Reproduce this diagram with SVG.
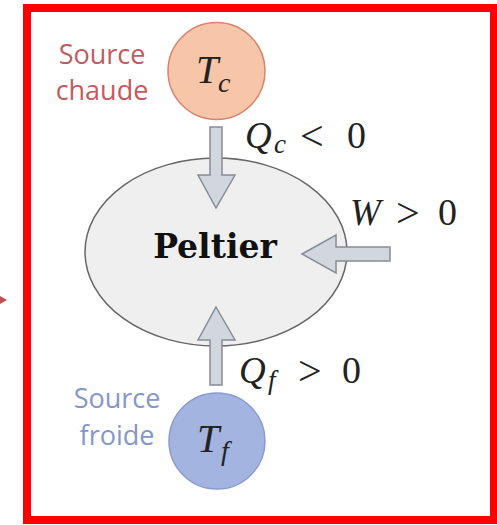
<svg xmlns="http://www.w3.org/2000/svg" width="497" height="525" viewBox="0 0 497 525">
<style>
.src{font-family:"Open Sans","Liberation Sans",sans-serif;font-size:27px;text-anchor:middle}
.mi{font-family:"Liberation Serif","DejaVu Serif",serif;font-style:italic;fill:#222}
.mr{font-family:"Liberation Serif","DejaVu Serif",serif;fill:#222}
.rel{font-size:42px}
.dig{font-size:38px}
.arr{fill:#d2d6df;stroke:#868c98;stroke-width:1.5;stroke-linejoin:miter}
</style>
<rect x="0" y="0" width="497" height="525" fill="#ffffff"/>
<rect x="27" y="8" width="467" height="512" fill="none" stroke="#ff0000" stroke-width="8"/>
<polygon points="0,296 7,300 0,304" fill="#c0504d"/>
<g id="peltier">
<ellipse cx="216" cy="252" rx="131" ry="94" fill="#efefef" stroke="#666666" stroke-width="1.5"/>
<text x="215" y="258" font-family="'DejaVu Serif',serif" font-weight="bold" font-size="33" text-anchor="middle" fill="#111">Peltier</text>
</g>
<g id="source-chaude">
<circle cx="216.5" cy="71" r="48.5" fill="#f7c6a8" stroke="#d9826e" stroke-width="1.5"/>
<text class="src" x="102" y="64" fill="#c45a5e">Source</text>
<text class="src" x="102" y="100" fill="#c45a5e">chaude</text>
<text class="mi" x="196" y="83" font-size="40">T</text>
<text class="mi" x="218" y="92" font-size="28">c</text>
</g>
<g id="source-froide">
<circle cx="217" cy="441" r="48" fill="#a4b4e0" stroke="#8a9bd0" stroke-width="1.5"/>
<text class="src" x="117" y="408" fill="#8497c9">Source</text>
<text class="src" x="117" y="445" fill="#8497c9">froide</text>
<text class="mi" x="197" y="452" font-size="40">T</text>
<text class="mi" x="221" y="460" font-size="28">f</text>
</g>
<g id="connectors">
<polygon class="arr" points="210,127 222,127 222,175 235,175 216,208 198,175 210,175"/>
<polygon class="arr" points="216,307 235,340 222,340 222,385 210,385 210,340 198,340"/>
<polygon class="arr" points="302,254 336,235 336,247 390,247 390,261 336,261 336,273"/>
<g id="label-qc">
<text class="mi" x="245" y="148" font-size="37">Q</text>
<text class="mi" x="274" y="153" font-size="27">c</text>
<text class="mr rel" x="300" y="150">&lt;</text>
<text class="mr dig" x="347" y="148">0</text>
</g>
<g id="label-w">
<text class="mi" x="350" y="225" font-size="37">W</text>
<text class="mr rel" x="396" y="227">&gt;</text>
<text class="mr dig" x="438" y="225">0</text>
</g>
<g id="label-qf">
<text class="mi" x="239" y="383" font-size="37">Q</text>
<text class="mi" x="268" y="389" font-size="27">f</text>
<text class="mr rel" x="298" y="385">&gt;</text>
<text class="mr dig" x="342" y="383">0</text>
</g>
</g>
</svg>
